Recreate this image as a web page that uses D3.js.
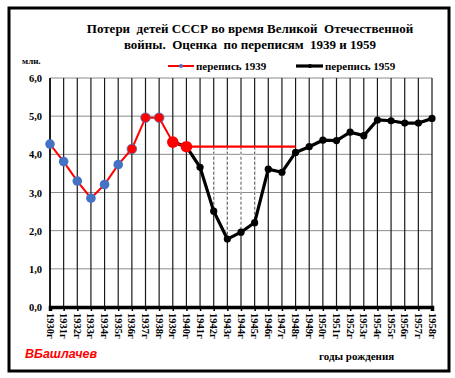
<!DOCTYPE html>
<html>
<head>
<meta charset="utf-8">
<script src="https://cdn.jsdelivr.net/npm/d3@7"></script>
<style>
  body { margin: 0; background: #fff; }
  text { font-family: "Liberation Serif", "Times New Roman", serif; font-weight: bold; }
</style>
</head>
<body>
<div id="chart"></div>
<script>
// years of birth 1930..1958
const years = ["1930г","1931г","1932г","1933г","1934г","1935г","1936г","1937г","1938г","1939г",
  "1940г","1941г","1942г","1943г","1944г","1945г","1946г","1947г","1948г","1949г",
  "1950г","1951г","1952г","1953г","1954г","1955г","1956г","1957г","1958г"];

// census 1939 (1930-1940)
const census1939 = [4.27, 3.81, 3.30, 2.85, 3.21, 3.73, 4.14, 4.96, 4.96, 4.32, 4.20];
// census 1959 (1939-1958)
const census1959Years = years.slice(9);
const census1959 = [4.32, 4.20, 3.66, 2.51, 1.78, 1.96, 2.21, 3.61, 3.53, 4.05, 4.20,
  4.37, 4.36, 4.58, 4.49, 4.90, 4.88, 4.82, 4.82, 4.94];
// pre-war level 1940..1948
const levelYears = ["1940г","1948г"];
const levelValue = 4.2;
const lossYears = ["1942г","1943г","1944г","1945г"];

const yTicks = [0, 1, 2, 3, 4, 5, 6];

const width = 455, height = 378;
const svg = d3.select("#chart").append("svg")
  .attr("width", width).attr("height", height);

// outer frame
svg.append("rect").attr("x", 9).attr("y", 8).attr("width", 440).attr("height", 363)
  .attr("fill", "none").attr("stroke", "#000").attr("stroke-width", 3);

const x = d3.scalePoint().domain(years).range([50, 432]);
const y = d3.scaleLinear().domain([0, 6]).range([307, 78]);

// horizontal grid
svg.append("g").selectAll("line").data(yTicks.slice(1)).enter().append("line")
  .attr("x1", 50).attr("x2", 432)
  .attr("y1", d => y(d)).attr("y2", d => y(d))
  .attr("stroke", "#8c8c8c").attr("stroke-width", 1);

// vertical grid
svg.append("g").selectAll("line").data(years).enter().append("line")
  .attr("x1", d => x(d)).attr("x2", d => x(d))
  .attr("y1", y(6)).attr("y2", y(0))
  .attr("stroke", "#1a1a1a").attr("stroke-width", 1.2);

// dashed drop lines (losses) between level and curve
const v1959 = new Map(census1959Years.map((c, i) => [c, census1959[i]]));
const drops = svg.append("g");
drops.selectAll(".bg").data(lossYears).enter().append("line")
  .attr("x1", d => x(d)).attr("x2", d => x(d))
  .attr("y1", y(levelValue)).attr("y2", d => y(v1959.get(d)))
  .attr("stroke", "#fff").attr("stroke-width", 2);
drops.selectAll(".dash").data(lossYears).enter().append("line")
  .attr("x1", d => x(d)).attr("x2", d => x(d))
  .attr("y1", y(levelValue)).attr("y2", d => y(v1959.get(d)))
  .attr("stroke", "#555").attr("stroke-width", 1).attr("stroke-dasharray", "3,2");

// y axis labels
svg.append("g").selectAll("text").data(yTicks).enter().append("text")
  .attr("x", 42).attr("y", d => y(d) + 4)
  .attr("text-anchor", "end").attr("font-size", 10.5)
  .text(d => d3.format(".1f")(d).replace(".", ","));

// axes lines
svg.append("line").attr("x1", 50).attr("x2", 50).attr("y1", y(6)).attr("y2", y(0))
  .attr("stroke", "#000").attr("stroke-width", 1.5);
svg.append("g").attr("transform", `translate(0,${y(0)})`)
  .call(d3.axisBottom(x).tickSize(4).tickFormat(""))
  .call(g => g.select(".domain").attr("stroke-width", 3.5))
  .call(g => g.selectAll(".tick line").attr("stroke-width", 1.5));

// x labels rotated
svg.append("g").selectAll("text").data(years).enter().append("text")
  .attr("transform", d => `translate(${x(d) - 3.5},${y(0) + 6}) rotate(90)`)
  .attr("font-size", 10.5)
  .text(d => d);

// level line 1940-1948
svg.append("line")
  .attr("x1", x(levelYears[0])).attr("x2", x(levelYears[1]))
  .attr("y1", y(levelValue)).attr("y2", y(levelValue))
  .attr("stroke", "#ff0000").attr("stroke-width", 2.2);

// census 1959 line
const line = d3.line().x(d => x(d[0])).y(d => y(d[1]));
const data1959 = census1959Years.map((c, i) => [c, census1959[i]]);
svg.append("path").datum(data1959).attr("d", line)
  .attr("fill", "none").attr("stroke", "#000").attr("stroke-width", 3.2);
svg.append("g").selectAll("circle").data(data1959).enter().append("circle")
  .attr("cx", d => x(d[0])).attr("cy", d => y(d[1])).attr("r", 3.6)
  .attr("fill", "#000");

// census 1939 line
const data1939 = census1939.map((v, i) => [years[i], v]);
svg.append("path").datum(data1939).attr("d", line)
  .attr("fill", "none").attr("stroke", "#ff0000").attr("stroke-width", 2);
svg.append("g").selectAll("circle").data(data1939).enter().append("circle")
  .attr("cx", d => x(d[0])).attr("cy", d => y(d[1]))
  .attr("r", (d, i) => i >= 9 ? 5.8 : 4.8)
  .attr("fill", (d, i) => i < 6 ? "#4472c4" : "#ff0000")
  .attr("stroke", (d, i) => i < 9 ? "#4472c4" : "#ff0000")
  .attr("stroke-width", (d, i) => i >= 6 && i < 9 ? 0.8 : 0);

// title
const title = svg.append("text").attr("text-anchor", "middle").attr("font-size", 13);
title.append("tspan").attr("x", 250).attr("y", 33).attr("xml:space", "preserve")
  .text("Потери  детей СССР во время Великой  Отечественной");
title.append("tspan").attr("x", 250).attr("y", 49).attr("xml:space", "preserve")
  .text("войны.  Оценка  по переписям  1939 и 1959");

svg.append("text").attr("x", 22).attr("y", 64).attr("font-size", 9).text("млн.");

// legend
const lg = svg.append("g");
lg.append("line").attr("x1", 168).attr("x2", 194).attr("y1", 66).attr("y2", 66)
  .attr("stroke", "#ff0000").attr("stroke-width", 2);
lg.append("circle").attr("cx", 181).attr("cy", 66).attr("r", 2).attr("fill", "#4472c4");
lg.append("text").attr("x", 196).attr("y", 70).attr("font-size", 11).text("перепись 1939");
lg.append("line").attr("x1", 296).attr("x2", 323).attr("y1", 66).attr("y2", 66)
  .attr("stroke", "#000").attr("stroke-width", 3.2);
lg.append("circle").attr("cx", 310).attr("cy", 66).attr("r", 2).attr("fill", "#000");
lg.append("text").attr("x", 325).attr("y", 70).attr("font-size", 11).text("перепись 1959");

// author and axis title
svg.append("text").attr("x", 25).attr("y", 358)
  .style("font-family", "'Liberation Sans', Arial, sans-serif").style("font-style", "italic")
  .attr("font-size", 12.5).attr("fill", "#ff0000").text("ВБашлачев");
svg.append("text").attr("x", 319).attr("y", 360).attr("font-size", 11).text("годы рождения");
</script>
</body>
</html>
